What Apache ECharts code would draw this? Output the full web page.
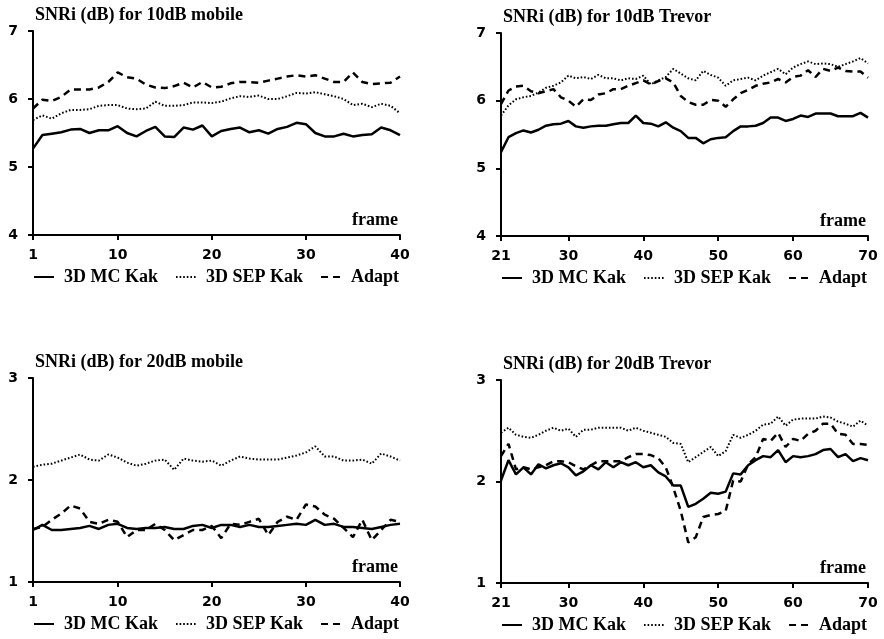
<!DOCTYPE html>
<html>
<head>
<meta charset="utf-8">
<script src="https://cdn.jsdelivr.net/npm/echarts@6/dist/echarts.min.js"></script>
<style>
html,body{margin:0;padding:0;background:#fff;}
#chart_main{width:884px;height:639px;}
</style>
</head>
<body>
<div id="chart_main"></div>
<script type="text/javascript">
// frames on the x axis
var mobileFrames = [1,2,3,4,5,6,7,8,9,10,11,12,13,14,15,16,17,18,19,20,21,22,23,24,25,26,27,28,29,30,31,32,33,34,35,36,37,38,39,40];
var trevorFrames = [21,22,23,24,25,26,27,28,29,30,31,32,33,34,35,36,37,38,39,40,41,42,43,44,45,46,47,48,49,50,51,52,53,54,55,56,57,58,59,60,61,62,63,64,65,66,67,68,69,70];
var mobileTicks = [1,10,20,30,40];
var trevorTicks = [21,30,40,50,60,70];
var seriesNames = ['3D MC Kak', '3D SEP Kak', 'Adapt'];

// 10dB mobile
var mc10m = [5.27,5.47,5.49,5.51,5.55,5.56,5.50,5.54,5.54,5.60,5.50,5.45,5.53,5.59,5.45,5.44,5.58,5.55,5.61,5.45,5.53,5.56,5.58,5.51,5.54,5.49,5.56,5.59,5.65,5.63,5.50,5.45,5.45,5.49,5.45,5.47,5.48,5.58,5.54,5.47];
var sep10m = [5.69,5.76,5.71,5.79,5.84,5.84,5.85,5.90,5.91,5.91,5.86,5.85,5.86,5.96,5.90,5.90,5.91,5.95,5.95,5.94,5.96,6.01,6.04,6.03,6.05,6.00,6.00,6.04,6.09,6.08,6.10,6.07,6.04,6.00,5.91,5.93,5.88,5.93,5.90,5.79];
var ad10m = [5.86,5.99,5.97,6.03,6.14,6.14,6.14,6.17,6.25,6.39,6.32,6.30,6.21,6.17,6.16,6.19,6.24,6.17,6.25,6.17,6.18,6.23,6.25,6.25,6.24,6.27,6.30,6.33,6.35,6.33,6.35,6.30,6.25,6.25,6.39,6.25,6.22,6.23,6.24,6.33];

// 10dB Trevor
var mc10t = [5.24,5.46,5.52,5.56,5.53,5.57,5.63,5.65,5.66,5.70,5.62,5.60,5.62,5.63,5.63,5.65,5.67,5.67,5.78,5.67,5.66,5.62,5.68,5.60,5.55,5.45,5.45,5.37,5.43,5.45,5.46,5.55,5.62,5.62,5.63,5.67,5.75,5.75,5.70,5.73,5.78,5.76,5.81,5.81,5.81,5.77,5.77,5.77,5.82,5.75];
var sep10t = [5.78,5.93,6.02,6.05,6.07,6.12,6.19,6.22,6.27,6.37,6.33,6.35,6.32,6.38,6.33,6.33,6.30,6.33,6.32,6.37,6.24,6.30,6.35,6.47,6.40,6.33,6.30,6.44,6.38,6.34,6.22,6.30,6.32,6.34,6.30,6.37,6.42,6.47,6.39,6.49,6.54,6.58,6.54,6.55,6.54,6.50,6.54,6.58,6.63,6.55];
var ad10t = [5.95,6.15,6.21,6.22,6.14,6.11,6.14,6.17,6.05,6.00,5.91,6.02,6.01,6.09,6.11,6.17,6.17,6.22,6.26,6.30,6.24,6.29,6.33,6.27,6.07,5.98,5.94,5.94,6.01,6.00,5.91,6.02,6.11,6.16,6.22,6.25,6.27,6.32,6.27,6.35,6.37,6.45,6.35,6.47,6.44,6.49,6.44,6.43,6.43,6.34];

// 20dB mobile
var mc20m = [1.51,1.56,1.51,1.51,1.52,1.53,1.55,1.52,1.56,1.57,1.53,1.52,1.53,1.53,1.54,1.52,1.52,1.55,1.56,1.53,1.56,1.56,1.54,1.56,1.54,1.54,1.55,1.56,1.57,1.56,1.61,1.56,1.57,1.54,1.54,1.53,1.52,1.54,1.56,1.57];
var sep20m = [2.13,2.15,2.16,2.19,2.22,2.25,2.20,2.19,2.25,2.22,2.17,2.14,2.16,2.19,2.20,2.10,2.21,2.19,2.18,2.19,2.14,2.19,2.23,2.21,2.20,2.20,2.20,2.22,2.24,2.27,2.33,2.23,2.23,2.19,2.19,2.20,2.16,2.26,2.23,2.19];
var ad20m = [1.52,1.54,1.61,1.67,1.75,1.72,1.59,1.57,1.61,1.59,1.44,1.51,1.51,1.57,1.51,1.41,1.46,1.51,1.51,1.55,1.43,1.57,1.56,1.59,1.62,1.46,1.59,1.64,1.61,1.76,1.74,1.66,1.62,1.53,1.44,1.61,1.41,1.51,1.61,1.59];

// 20dB Trevor
var mc20t = [2.01,2.21,2.07,2.14,2.07,2.17,2.13,2.16,2.18,2.14,2.06,2.10,2.16,2.12,2.19,2.14,2.19,2.16,2.19,2.14,2.16,2.09,2.05,1.96,1.96,1.75,1.78,1.83,1.89,1.88,1.90,2.08,2.07,2.16,2.21,2.25,2.24,2.31,2.19,2.25,2.24,2.25,2.27,2.31,2.32,2.24,2.27,2.20,2.23,2.21];
var sep20t = [2.48,2.53,2.46,2.44,2.43,2.46,2.50,2.53,2.50,2.52,2.44,2.51,2.51,2.53,2.53,2.53,2.53,2.50,2.53,2.50,2.48,2.46,2.44,2.38,2.37,2.19,2.24,2.29,2.34,2.25,2.30,2.46,2.43,2.46,2.50,2.56,2.57,2.64,2.55,2.61,2.62,2.62,2.62,2.64,2.63,2.59,2.57,2.54,2.60,2.55];
var ad20t = [2.25,2.37,2.12,2.14,2.12,2.14,2.16,2.20,2.20,2.19,2.15,2.12,2.16,2.20,2.20,2.20,2.20,2.24,2.27,2.27,2.26,2.23,2.14,1.94,1.71,1.40,1.45,1.65,1.67,1.68,1.71,2.01,2.00,2.17,2.24,2.42,2.40,2.48,2.34,2.42,2.40,2.47,2.50,2.57,2.57,2.47,2.46,2.37,2.37,2.36];

var panels = [
    {title:'SNRi (dB) for 10dB mobile', frames:mobileFrames, ticks:mobileTicks, ymin:4, ymax:7, data:[mc10m,sep10m,ad10m],
     left:33, top:31, height:204, legendTop:268},
    {title:'SNRi (dB) for 10dB Trevor', frames:trevorFrames, ticks:trevorTicks, ymin:4, ymax:7, data:[mc10t,sep10t,ad10t],
     left:501, top:33, height:203, legendTop:269},
    {title:'SNRi (dB) for 20dB mobile', frames:mobileFrames, ticks:mobileTicks, ymin:1, ymax:3, data:[mc20m,sep20m,ad20m],
     left:33, top:378, height:204, legendTop:615},
    {title:'SNRi (dB) for 20dB Trevor', frames:trevorFrames, ticks:trevorTicks, ymin:1, ymax:3, data:[mc20t,sep20t,ad20t],
     left:501, top:380, height:203, legendTop:616}
];

var serif = '"Liberation Serif", "Times New Roman", serif';
var sans = '"DejaVu Sans", sans-serif';
var lineStyles = [
    {color:'#000', width:2.5, type:'solid'},
    {color:'#000', width:2, type:[1.6,2]},
    {color:'#000', width:2.5, type:[7,5]}
];

var grids = [], xAxes = [], yAxes = [], titles = [], legends = [], series = [];
panels.forEach(function(p, i){
    grids.push({left:p.left, top:p.top, width:367, height:p.height});
    titles.push({text:p.title, left:p.left + 2, top:p.top - 25, padding:0,
        textStyle:{fontFamily:serif, fontWeight:'bold', fontSize:18, color:'#000'}});
    legends.push({data:seriesNames, left:p.left, top:p.legendTop, orient:'horizontal', padding:0,
        itemWidth:20, itemHeight:10, itemGap:17, selectedMode:false,
        itemStyle:{opacity:0},
        textStyle:{fontFamily:serif, fontWeight:'bold', fontSize:18, color:'#000', padding:[0,0,0,5]}});
    xAxes.push({type:'value', gridIndex:i, min:p.frames[0], max:p.frames[p.frames.length-1],
        name:'frame', nameLocation:'end', nameGap:0,
        nameTextStyle:{fontFamily:serif, fontWeight:'bold', fontSize:18, color:'#000',
            align:'right', verticalAlign:'bottom', padding:[0,2,6,0]},
        splitLine:{show:false},
        axisLine:{lineStyle:{color:'#000', width:2}},
        axisTick:{customValues:p.ticks, length:5, lineStyle:{color:'#000', width:2}},
        axisLabel:{customValues:p.ticks, margin:13, fontFamily:sans, fontWeight:'bold', fontSize:14, color:'#000'}});
    yAxes.push({type:'value', gridIndex:i, min:p.ymin, max:p.ymax, interval:1,
        splitLine:{show:false},
        axisLine:{show:true, lineStyle:{color:'#000', width:2}},
        axisTick:{show:true, length:5, lineStyle:{color:'#000', width:2}},
        axisLabel:{margin:15, fontFamily:sans, fontWeight:'bold', fontSize:14, color:'#000'}});
    p.data.forEach(function(vals, k){
        series.push({
            name:seriesNames[k], type:'line', xAxisIndex:i, yAxisIndex:i,
            symbol:'none', silent:true, animation:false,
            lineStyle:lineStyles[k],
            itemStyle:{color:'#000'},
            data:vals.map(function(v, j){ return [p.frames[j], v]; })
        });
    });
});

var myChart = echarts.init(document.getElementById('chart_main'));
myChart.setOption({
    backgroundColor:'#fff',
    animation:false,
    title:titles,
    legend:legends,
    grid:grids,
    xAxis:xAxes,
    yAxis:yAxes,
    series:series
});
</script>
</body>
</html>
